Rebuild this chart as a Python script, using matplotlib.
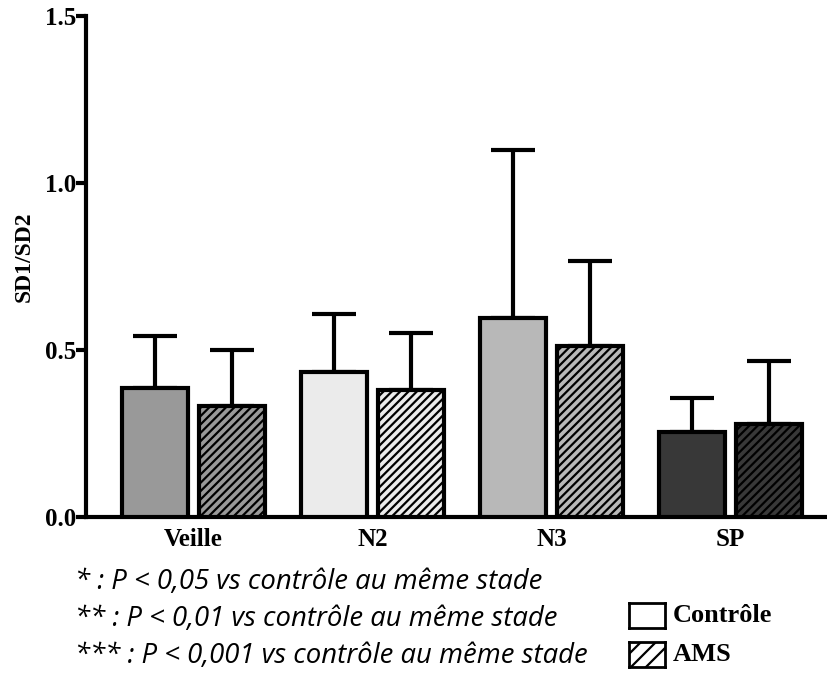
import matplotlib.pyplot as plt
import numpy as np

plt.rcParams['hatch.linewidth'] = 1.6

stages = ['Veille', 'N2', 'N3', 'SP']
controle = [0.386, 0.434, 0.595, 0.255]
controle_err = [0.156, 0.174, 0.505, 0.102]
ams = [0.332, 0.380, 0.513, 0.278]
ams_err = [0.168, 0.172, 0.253, 0.190]
colors = ['#999999', '#ebebeb', '#b8b8b8', '#383838']

notes = ['* : P < 0,05 vs contrôle au même stade',
         '** : P < 0,01 vs contrôle au même stade',
         '*** : P < 0,001 vs contrôle au même stade']

serif = 'Liberation Serif'

fig = plt.figure(figsize=(8.27, 6.75), dpi=100)
ax = fig.add_axes([0.104, 0.234, 0.894, 0.742])

x = np.arange(len(stages))
w = 0.37
off = 0.215

ax.bar(x - off, controle, w, color=colors, edgecolor='black', linewidth=3, zorder=3)
ax.bar(x + off, ams, w, color=colors, edgecolor='black', linewidth=3,
       hatch='////', zorder=3)

ax.errorbar(x - off, controle, yerr=[np.zeros(4), controle_err], fmt='none',
            ecolor='black', elinewidth=3, capsize=16, capthick=3, zorder=2)
ax.errorbar(x + off, ams, yerr=[np.zeros(4), ams_err], fmt='none',
            ecolor='black', elinewidth=3, capsize=16, capthick=3, zorder=2)

ax.set_xlim(-0.6, 3.53)
ax.set_ylim(0, 1.5)
ax.set_yticks([0, 0.5, 1.0, 1.5])
ax.set_yticklabels(['0.0', '0.5', '1.0', '1.5'], fontfamily=serif,
                   fontweight='bold', fontsize=18)
ax.set_xticks(x)
ax.set_xticklabels(stages, fontfamily=serif, fontweight='bold', fontsize=18)
ax.tick_params(axis='x', length=0, pad=8)
ax.tick_params(axis='y', width=3, length=7, pad=0)
ax.set_ylabel('SD1/SD2', fontfamily=serif, fontweight='bold', fontsize=17)
ax.yaxis.set_label_coords(-0.07, 0.52)

for s in ['top', 'right']:
    ax.spines[s].set_visible(False)
for s in ['left', 'bottom']:
    ax.spines[s].set_linewidth(3)

for i, t in enumerate(notes):
    fig.text(75 / 827, 1 - (582 + i * 37) / 675, t, fontfamily='Open Sans',
             fontstyle='italic', fontsize=19.8, va='center')

# legend drawn by hand: small boxes as tiny axes
labels = ['Contrôle', 'AMS']
for i, lab in enumerate(labels):
    y0 = 1 - (628 + i * 39) / 675
    lax = fig.add_axes([629 / 827, y0, 36 / 827, 25 / 675])
    lax.set_xlim(0, 36)
    lax.set_ylim(0, 25)
    lax.set_xticks([])
    lax.set_yticks([])
    for sp in lax.spines.values():
        sp.set_linewidth(2)
    if i == 1:
        xs = np.array([-30, 60])
        for c in [13, -2, -17]:
            lax.plot(xs, xs + c, color='black', lw=1.6)
    fig.text(673 / 827, y0 + 12.5 / 675, lab, fontfamily=serif,
             fontweight='bold', fontsize=19, va='center')

fig.savefig('out.png', dpi=100)
